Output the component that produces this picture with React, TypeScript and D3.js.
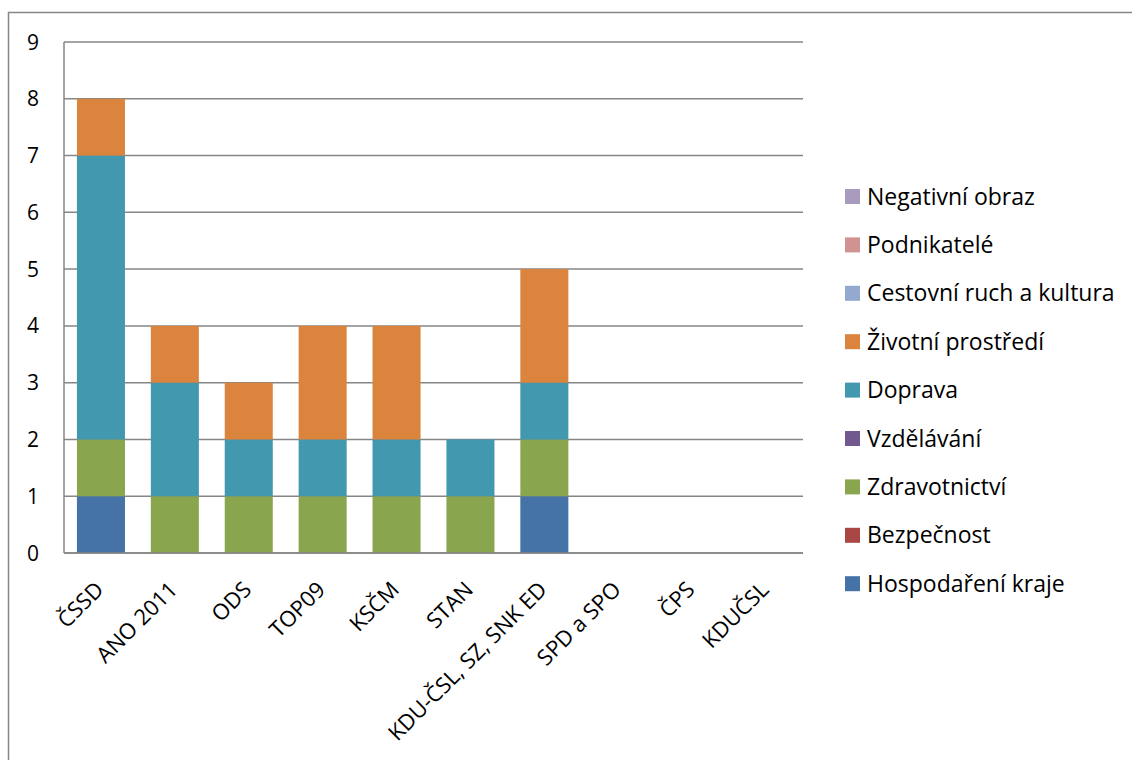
import React from "react";
import * as d3 from "d3";

const categories = ["ČSSD", "ANO 2011", "ODS", "TOP09", "KSČM", "STAN", "KDU-ČSL, SZ, SNK ED", "SPD a SPO", "ČPS", "KDUČSL"];
// stacking order bottom -> top
const seriesNames = ["Hospodaření kraje", "Bezpečnost", "Zdravotnictví", "Vzdělávání", "Doprava", "Životní prostředí", "Cestovní ruch a kultura", "Podnikatelé", "Negativní obraz"];
const seriesColors = ["#4572A7", "#AA4643", "#89A54E", "#71588F", "#4198AF", "#DB843D", "#93A9CF", "#D19392", "#A99BBD"];
const hospodareni = [1, 0, 0, 0, 0, 0, 1, 0, 0, 0];
const bezpecnost = [0, 0, 0, 0, 0, 0, 0, 0, 0, 0];
const zdravotnictvi = [1, 1, 1, 1, 1, 1, 1, 0, 0, 0];
const vzdelavani = [0, 0, 0, 0, 0, 0, 0, 0, 0, 0];
const doprava = [5, 2, 1, 1, 1, 1, 1, 0, 0, 0];
const zivotni = [1, 1, 1, 2, 2, 0, 2, 0, 0, 0];
const cestovni = [0, 0, 0, 0, 0, 0, 0, 0, 0, 0];
const podnikatele = [0, 0, 0, 0, 0, 0, 0, 0, 0, 0];
const negativni = [0, 0, 0, 0, 0, 0, 0, 0, 0, 0];
const yTicks = [0, 1, 2, 3, 4, 5, 6, 7, 8, 9];

const seriesValues = [hospodareni, bezpecnost, zdravotnictvi, vzdelavani, doprava, zivotni, cestovni, podnikatele, negativni];

export default function App() {
  const W = 1132, H = 760;
  const left = 64, right = 803, top = 42, bottom = 553;
  const font = "Open Sans, sans-serif";
  const x = d3.scaleBand<string>().domain(categories).range([left, right]).paddingInner(0.35).paddingOuter(0.175);
  const y = d3.scaleLinear().domain([0, 9]).range([bottom, top]);
  const rows = categories.map((c, i) => {
    const r: any = { cat: c };
    seriesNames.forEach((s, j) => (r[s] = seriesValues[j][i]));
    return r;
  });
  const stacked = d3.stack<any>().keys(seriesNames)(rows);
  const grid = "#868686";
  const legendItems = seriesNames.map((s, i) => ({ s, c: seriesColors[i] })).reverse();
  const legTop = 196.5, legStep = 48.4;
  return (
    <svg width={W} height={H} style={{ position: "fixed", left: 0, top: 0, background: "#fff" }}>
      <rect x={8.5} y={12.5} width={1140} height={770} fill="#fff" stroke={grid} strokeWidth={1.5} />
      {yTicks.map((t) => (
        <g key={t}>
          <line x1={left} x2={right} y1={y(t)} y2={y(t)} stroke={grid} strokeWidth={1.5} />
          <text x={33} y={y(t)} dy="0.36em" textAnchor="middle" fontFamily={font} fontSize={21} fill="#000">{t}</text>
        </g>
      ))}
      <line x1={left} x2={left} y1={top} y2={bottom} stroke={grid} strokeWidth={1.5} />
      {stacked.map((layer, j) => (
        <g key={layer.key} fill={seriesColors[j]}>
          {layer.map((d, i) =>
            d[1] - d[0] > 0 ? (
              <rect key={i} x={x(categories[i])!} width={x.bandwidth()} y={y(d[1])} height={y(d[0]) - y(d[1])} />
            ) : null
          )}
        </g>
      ))}
      <line x1={left} x2={right} y1={bottom} y2={bottom} stroke={grid} strokeWidth={1.5} />
      {categories.map((c) => {
        const cx = x(c)! + x.bandwidth() / 2 + 4;
        const cy = 591;
        return (
          <text key={c} x={cx} y={cy} transform={`rotate(-45 ${cx} ${cy})`} textAnchor="end" fontFamily={font} fontSize={22} fill="#000">{c}</text>
        );
      })}
      {legendItems.map((it, i) => (
        <g key={it.s}>
          <rect x={845} y={legTop + i * legStep - 7.5} width={15} height={15} fill={it.c} />
          <text x={867} y={legTop + i * legStep} dy="0.35em" fontFamily={font} fontSize={23} fill="#000">{it.s}</text>
        </g>
      ))}
    </svg>
  );
}
